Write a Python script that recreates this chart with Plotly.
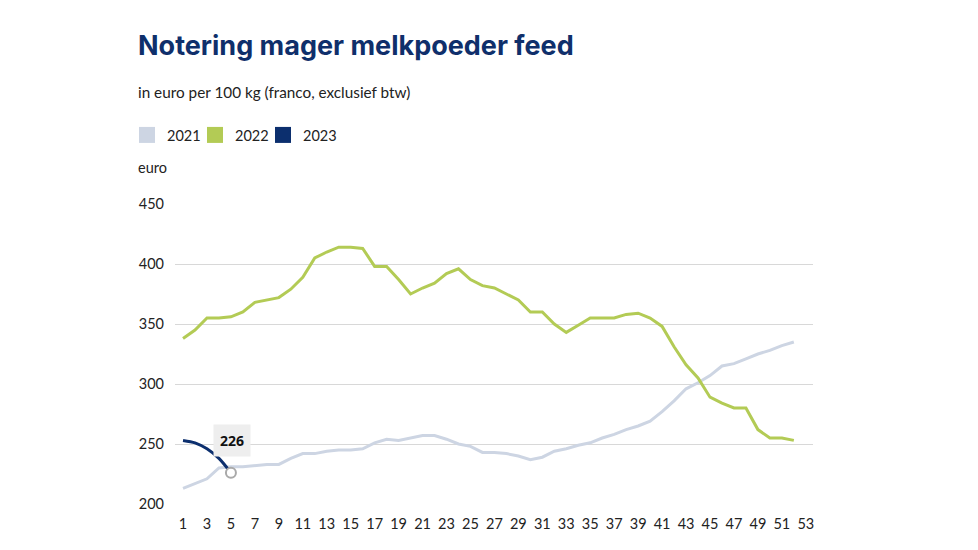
import plotly.graph_objects as go

weeks_2021 = list(range(1, 53))
vals_2021 = [213, 217, 221, 230, 231, 231, 232, 233, 233, 238, 242, 242, 244, 245, 245, 246,
             251, 254, 253, 255, 257, 257, 254, 250, 248, 243, 243, 242, 240, 237, 239, 244,
             246, 249, 251, 255, 258, 262, 265, 269, 277, 286, 296, 301, 307, 315, 317, 321,
             325, 328, 332, 335]
weeks_2022 = list(range(1, 53))
vals_2022 = [338, 345, 355, 355, 356, 360, 368, 370, 372, 379, 389, 405, 410, 414, 414, 413,
             398, 398, 387, 375, 380, 384, 392, 396, 387, 382, 380, 375, 370, 360, 360, 350,
             343, 349, 355, 355, 355, 358, 359, 355, 348, 331, 316, 305, 289, 284, 280, 280,
             262, 255, 255, 253]
weeks_2023 = [1, 2, 3, 4, 5]
vals_2023 = [253, 251, 246, 238, 226]

series_names = ["2021", "2022", "2023"]
colors = ["#cdd5e3", "#b3cb55", "#0c2f6e"]
x_ticks = list(range(1, 54, 2))
y_ticks = [200, 250, 300, 350, 400, 450]

fig = go.Figure()
fig.add_trace(go.Scatter(x=weeks_2021, y=vals_2021, mode="lines", name=series_names[0],
                         line=dict(color=colors[0], width=3), showlegend=False))
fig.add_trace(go.Scatter(x=weeks_2022, y=vals_2022, mode="lines", name=series_names[1],
                         line=dict(color=colors[1], width=3), showlegend=False))
fig.add_trace(go.Scatter(x=weeks_2023, y=vals_2023, mode="lines", name=series_names[2],
                         line=dict(color=colors[2], width=3, shape="spline", smoothing=0.8),
                         showlegend=False))
fig.add_trace(go.Scatter(x=[weeks_2023[-1]], y=[vals_2023[-1]], mode="markers",
                         marker=dict(symbol="circle", size=10, color="white",
                                     line=dict(color="#a9a9a9", width=2)),
                         showlegend=False, hoverinfo="skip"))
# legend entries
for name, c in zip(series_names, colors):
    fig.add_trace(go.Scatter(x=[None], y=[None], mode="markers", name=name,
                             marker=dict(symbol="square", size=16, color=c,
                                         line=dict(width=0))))
# spacer entry so the last legend label is not clipped
fig.add_trace(go.Scatter(x=[None], y=[None], mode="markers", name=" ",
                         marker=dict(symbol="square", size=16, color="rgba(0,0,0,0)",
                                     line=dict(width=0))))

fig.add_annotation(x=weeks_2023[-1], y=vals_2023[-1], text="<b>%d</b>" % vals_2023[-1],
                   showarrow=False, yshift=32, xshift=1, bgcolor="#eeeeee",
                   borderpad=6, font=dict(family="Open Sans", size=14, color="#111111"))

# page offset from default body margin
OFF = 8
W, H = 978 - OFF, 550 - OFF
L, R, T, B = 175 - OFF, 165, 204 - OFF, 46
pw, ph = W - L - R, H - T - B

def px(x):
    return (x - OFF - L) / pw

def py(y):
    return (H - B - (y - OFF)) / ph

fig.add_annotation(xref="paper", yref="paper", x=px(136), y=py(92), xanchor="left",
                   yanchor="middle", showarrow=False,
                   text="in euro per 100 kg (franco, exclusief btw)",
                   font=dict(family="Lato", size=15.3, color="#222222"))
fig.add_annotation(xref="paper", yref="paper", x=px(136), y=py(167), xanchor="left",
                   yanchor="middle", showarrow=False, text="euro",
                   font=dict(family="Lato", size=14.5, color="#222222"))

fig.update_layout(
    width=W, height=H,
    margin=dict(l=L, r=R, t=T, b=B),
    paper_bgcolor="white", plot_bgcolor="white",
    title=dict(text="<b>Notering mager melkpoeder feed</b>", xref="container", yref="container",
               x=(138 - OFF) / W, y=1 - (46 - OFF) / H, xanchor="left", yanchor="middle",
               font=dict(family="Inter", size=27, color="#0f2f6b", weight=900)),
    legend=dict(orientation="h", x=px(127), y=py(135), xanchor="left", yanchor="middle",
                font=dict(family="Lato", size=14.5, color="#222222"), itemsizing="trace",
                itemclick=False, bgcolor="rgba(0,0,0,0)",
                entrywidth=23, entrywidthmode="pixels"),
    xaxis=dict(range=[0.33, 53.6], tickvals=x_ticks, showgrid=False, zeroline=False,
               showline=False, ticks="", ticklabelstandoff=9,
               tickfont=dict(family="Lato", size=14.5, color="#222222")),
    yaxis=dict(range=[200, 450], tickvals=y_ticks, showgrid=True, gridcolor="#d8d8d8",
               gridwidth=1, zeroline=False, showline=False, ticks="", ticklabelstandoff=10,
               tickfont=dict(family="Lato", size=14.5, color="#222222")),
    font=dict(family="Lato"),
)

fig.write_html("out.html")
